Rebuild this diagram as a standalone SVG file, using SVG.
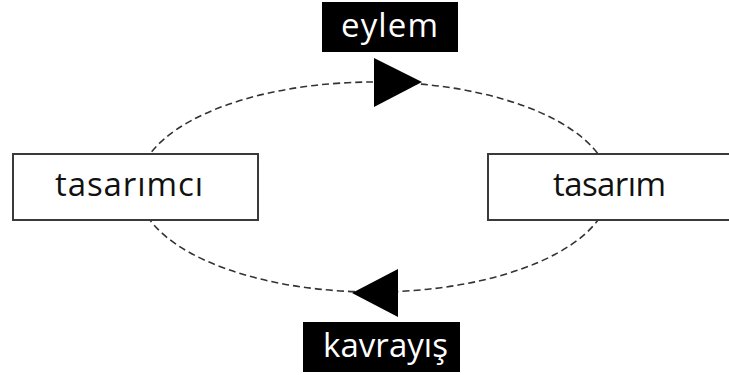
<svg xmlns="http://www.w3.org/2000/svg" width="729" height="375" viewBox="0 0 729 375">
  <style>
    .box { fill: #ffffff; stroke: #3a3a3a; stroke-width: 2; }
    .tag { fill: #000000; }
    .dark { font-family: "Open Sans", "Noto Sans", sans-serif; font-size: 33px; fill: #111111; }
    .light { font-family: "Open Sans", "Noto Sans", sans-serif; font-size: 33px; fill: #ffffff; }
    .loop { fill: none; stroke: #333333; stroke-width: 1.6; stroke-dasharray: 7 4; }
    .head { fill: #000000; }
  </style>
  <rect width="729" height="375" fill="#ffffff"/>

  <!-- dashed cycle with direction heads -->
  <g id="connectors">
    <ellipse class="loop" cx="374" cy="187" rx="236" ry="105"/>
    <polygon class="head" points="374,58 374,107 422,82"/>
    <polygon class="head" points="398,269 398,317 352,293"/>
  </g>

  <g id="tasarimci">
    <rect class="box" x="13" y="154" width="245" height="66"/>
    <text class="dark" x="55" y="196" textLength="148" lengthAdjust="spacing">tasarımcı</text>
  </g>

  <g id="tasarim">
    <rect class="box" x="488" y="154" width="260" height="66"/>
    <text class="dark" x="553" y="196" textLength="113" lengthAdjust="spacing">tasarım</text>
  </g>

  <g id="eylem">
    <rect class="tag" x="322" y="2" width="136" height="50"/>
    <text class="light" x="341" y="37" textLength="97" lengthAdjust="spacing">eylem</text>
  </g>

  <g id="kavrayis">
    <rect class="tag" x="303" y="322" width="157" height="50"/>
    <text class="light" x="323" y="357" textLength="125" lengthAdjust="spacing">kavrayış</text>
  </g>
</svg>
